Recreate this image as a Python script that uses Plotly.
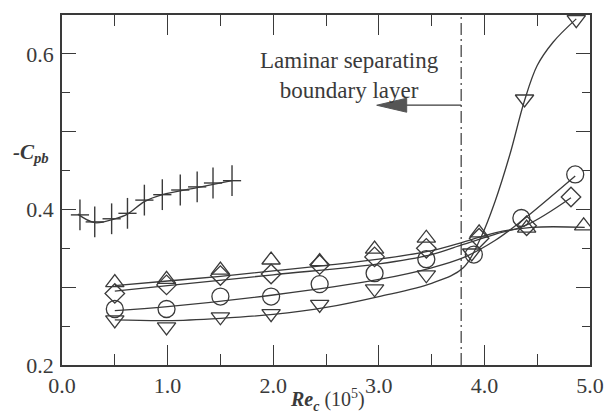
import plotly.graph_objects as go

# ---- data ----
# Open triangle-up series
tri_up_x = [0.50, 0.99, 1.50, 1.98, 2.44, 2.96, 3.45, 3.95, 4.40, 4.94]
tri_up_y = [0.306, 0.310, 0.322, 0.335, 0.333, 0.349, 0.363, 0.370, 0.376, 0.379]
tri_up_fit_x = [0.50, 1.0, 1.5, 2.0, 2.5, 3.0, 3.5, 3.8, 4.1, 4.45, 4.95]
tri_up_fit_y = [0.302, 0.308, 0.314, 0.321, 0.328, 0.336, 0.347, 0.358, 0.370, 0.377, 0.377]

# Open diamond series
dia_x = [0.50, 0.99, 1.50, 1.98, 2.44, 2.96, 3.45, 3.95, 4.40, 4.82]
dia_y = [0.292, 0.303, 0.315, 0.317, 0.329, 0.339, 0.350, 0.363, 0.379, 0.416]
dia_fit_x = [0.50, 1.0, 2.0, 3.0, 3.5, 3.8, 4.1, 4.4, 4.82]
dia_fit_y = [0.295, 0.302, 0.316, 0.330, 0.342, 0.355, 0.368, 0.380, 0.415]

# Open circle series
cir_x = [0.50, 0.99, 1.50, 1.98, 2.44, 2.96, 3.45, 3.90, 4.35, 4.86]
cir_y = [0.272, 0.272, 0.288, 0.288, 0.304, 0.318, 0.336, 0.342, 0.389, 0.445]
cir_fit_x = [0.50, 1.0, 2.0, 3.0, 3.5, 3.8, 4.1, 4.35, 4.86]
cir_fit_y = [0.270, 0.275, 0.290, 0.310, 0.325, 0.338, 0.360, 0.385, 0.443]

# Open triangle-down series
tri_dn_x = [0.50, 0.99, 1.50, 1.98, 2.44, 2.96, 3.45, 3.88, 4.38, 4.87]
tri_dn_y = [0.258, 0.249, 0.262, 0.266, 0.278, 0.298, 0.316, 0.344, 0.542, 0.644]
tri_dn_fit_x = [0.50, 1.0, 1.5, 2.0, 2.5, 3.0, 3.5, 3.8, 3.97, 4.1, 4.24, 4.38, 4.5, 4.65, 4.87]
tri_dn_fit_y = [0.258, 0.257, 0.260, 0.265, 0.274, 0.288, 0.305, 0.325, 0.365, 0.410, 0.470, 0.540, 0.585, 0.615, 0.645]

# Plus series
plus_x = [0.17, 0.31, 0.47, 0.62, 0.78, 0.95, 1.12, 1.28, 1.43, 1.61]
plus_y = [0.393, 0.384, 0.388, 0.395, 0.412, 0.419, 0.425, 0.429, 0.434, 0.437]
plus_fit_x = [0.15, 0.31, 0.50, 0.62, 0.78, 0.95, 1.28, 1.61]
plus_fit_y = [0.394, 0.383, 0.388, 0.394, 0.410, 0.419, 0.428, 0.437]

# axis ticks
x_tick_vals = [0, 1, 2, 3, 4, 5]
x_tick_text = ["0.0", "1.0", "2.0", "3.0", "4.0", "5.0"]
y_tick_vals = [0.2, 0.3, 0.4, 0.5, 0.6]
y_tick_text = ["0.2", "", "0.4", "", "0.6"]

# annotation positions
SEP_RE = 3.78        # laminar separation Reynolds number (dash-dot line)
ARROW_TIP_X = 2.98
ARROW_Y = 0.534

INK = "#3a3a3a"
FONT = "Liberation Serif, Times New Roman, serif"

L, R, T, B = 62, 18, 15, 50
W, H = 608, 415
PW, PH = W - L - R, H - T - B

def px_x(px):
    return (px - L) / PW

def px_y(py):
    return 1 - (py - T) / PH

fig = go.Figure()

def fit(x, y):
    fig.add_trace(go.Scatter(x=x, y=y, mode="lines",
                             line=dict(color=INK, width=1.3, shape="spline", smoothing=1.0),
                             hoverinfo="skip", showlegend=False))

def pts(x, y, symbol, size, width=1.3):
    fig.add_trace(go.Scatter(x=x, y=y, mode="markers",
                             marker=dict(symbol=symbol, size=size, color=INK,
                                         line=dict(color=INK, width=width)),
                             showlegend=False))

fit(tri_up_fit_x, tri_up_fit_y)
fit(dia_fit_x, dia_fit_y)
fit(cir_fit_x, cir_fit_y)
fit(tri_dn_fit_x, tri_dn_fit_y)
fit(plus_fit_x, plus_fit_y)

pts(tri_up_x, tri_up_y, "triangle-up-open", 16)
pts(dia_x, dia_y, "diamond-open", 15)
pts(cir_x, cir_y, "circle-open", 17)
pts(tri_dn_x, tri_dn_y, "triangle-down-open", 16)
pts(plus_x, plus_y, "line-ns-open", 22, 1.4)
pts(plus_x, plus_y, "line-ew-open", 13, 1.4)

# dash-dot separation line
fig.add_shape(type="line", xref="x", yref="paper", x0=SEP_RE, x1=SEP_RE, y0=0, y1=1,
              line=dict(color=INK, width=1.2, dash="12px,4px,2px,4px"))
# arrow shaft
fig.add_shape(type="line", xref="x", yref="y", x0=SEP_RE, x1=ARROW_TIP_X + 0.2,
              y0=ARROW_Y, y1=ARROW_Y, line=dict(color=INK, width=1.2))
# arrow head (pixel-sized, anchored at tip)
fig.add_shape(type="path", xref="x", yref="y", xsizemode="pixel", ysizemode="pixel",
              xanchor=ARROW_TIP_X, yanchor=ARROW_Y,
              path="M0,0 L30,7 L30,-7 Z", fillcolor="#555555", line=dict(color="#555555", width=1))

fig.add_annotation(x=px_x(349), y=px_y(75), xref="paper", yref="paper",
                   text="Laminar separating<br>boundary layer", showarrow=False,
                   font=dict(family=FONT, size=23, color=INK), align="center",
                   xanchor="center", yanchor="middle")

# axis titles as annotations
fig.add_annotation(x=px_x(327), y=px_y(400), xref="paper", yref="paper",
                   text="<b><i>Re</i></b><sub><b><i>c</i></b></sub> (10<sup>5</sup>)",
                   showarrow=False, font=dict(family=FONT, size=20, color=INK),
                   xanchor="center", yanchor="middle")
fig.add_annotation(x=px_x(31), y=px_y(153), xref="paper", yref="paper",
                   text="<b><i>-C</i></b><sub><b><i>pb</i></b></sub>",
                   showarrow=False, font=dict(family=FONT, size=21, color=INK),
                   xanchor="center", yanchor="middle")

axis_common = dict(showgrid=False, zeroline=False, showline=True, linecolor=INK, linewidth=1.6,
                   mirror="allticks", ticks="inside", tickcolor=INK, tickwidth=1.3,
                   automargin=False,
                   tickfont=dict(family=FONT, size=22, color=INK))

fig.update_xaxes(range=[0, 5], tickvals=x_tick_vals, ticktext=x_tick_text, ticklen=20,
                 minor=dict(ticks="inside", dtick=0.5, ticklen=11, tickcolor=INK, tickwidth=1.3),
                 ticklabelstandoff=0, **axis_common)
fig.update_yaxes(range=[0.2, 0.65], tickvals=y_tick_vals, ticktext=y_tick_text, ticklen=14,
                 minor=dict(ticks="inside", dtick=0.05, tick0=0.2, ticklen=8, tickcolor=INK, tickwidth=1.3),
                 ticklabelstandoff=2, **axis_common)

fig.update_layout(width=W, height=H, margin=dict(l=L, r=R, t=T, b=B),
                  plot_bgcolor="white", paper_bgcolor="white", showlegend=False)

fig.write_html("out.html", config={"displayModeBar": False},
               post_script="document.body.style.margin='0px';document.body.style.overflow='hidden';")
